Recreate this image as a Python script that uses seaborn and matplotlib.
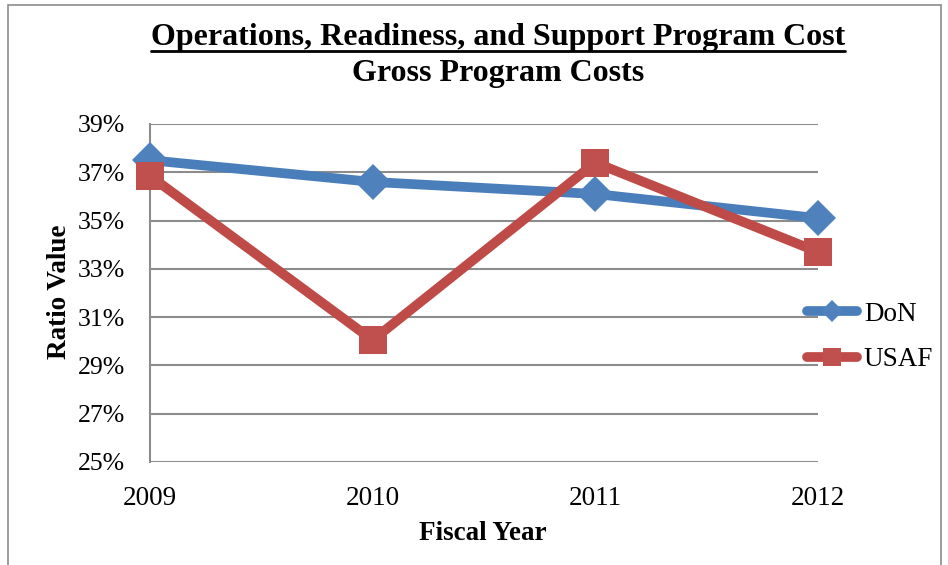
import matplotlib
matplotlib.use("Agg")
import matplotlib.pyplot as plt
import seaborn as sns
import pandas as pd
from matplotlib.lines import Line2D
from matplotlib.patches import Rectangle

years = [2009, 2010, 2011, 2012]
don = [37.5, 36.6, 36.1, 35.1]
usaf = [36.85, 30.05, 37.4, 33.7]
series_names = ["DoN", "USAF"]
y_ticks = [25, 27, 29, 31, 33, 35, 37, 39]

df = pd.DataFrame({
    "Fiscal Year": years * 2,
    "Ratio Value": don + usaf,
    "Series": ["DoN"] * 4 + ["USAF"] * 4,
})

sns.set_theme(style="white")
plt.rcParams["font.family"] = ["Liberation Serif", "DejaVu Serif"]
plt.rcParams["text.color"] = "black"
plt.rcParams["axes.labelcolor"] = "black"

fig = plt.figure(figsize=(9.48, 5.65), dpi=100)
W, H = 948, 565
ax = fig.add_axes([150 / W, 1 - 462 / H, (818 - 150) / W, (462 - 124) / H])

palette = {"DoN": "#4a7ebb", "USAF": "#be4b48"}
sns.lineplot(data=df, x="Fiscal Year", y="Ratio Value", hue="Series", style="Series",
             markers={"DoN": "D", "USAF": "s"}, dashes=False, palette=palette,
             linewidth=7, markersize=18, markeredgewidth=0, ax=ax, legend=False,
             clip_on=False, zorder=3)
for line, c in zip(ax.lines, ["#4f81bd", "#c0504d"]):
    line.set_markerfacecolor(c)
    line.set_markeredgecolor(c)
ax.lines[1].set_markersize(20)

ax.set_xlim(2009, 2012)
ax.set_ylim(25, 39)
ax.set_yticks(y_ticks)
ax.set_yticklabels([f"{v}%" for v in y_ticks])
ax.set_xticks(years)
ax.set_xticklabels([str(y) for y in years])
ax.tick_params(axis="y", labelsize=18.5, colors="black", length=0, pad=18)
ax.tick_params(axis="x", labelsize=19.5, colors="black", length=0, pad=17)
ax.grid(axis="y", color="#8c8c8c", linewidth=1.5)
ax.set_axisbelow(True)
for s in ["top", "right", "bottom"]:
    ax.spines[s].set_visible(False)
ax.spines["left"].set_color("#8c8c8c")
ax.spines["left"].set_linewidth(1.5)

ax.set_xlabel("Fiscal Year", fontsize=19.5, fontweight="bold", color="black")
ax.set_ylabel("Ratio Value", fontsize=19.5, fontweight="bold", color="black")
ax.xaxis.label.set_va("center")
ax.yaxis.label.set_va("center")
ax.xaxis.set_label_coords((483 - 150) / 668, (462 - 534) / 338)
ax.yaxis.set_label_coords((59 - 150) / 668, (462 - 292) / 338)

handles = [
    Line2D([], [], color="#4a7ebb", linewidth=7, marker="D", markersize=11,
           markerfacecolor="#4f81bd", markeredgewidth=0, solid_capstyle="round"),
    Line2D([], [], color="#be4b48", linewidth=7, marker="s", markersize=13,
           markerfacecolor="#c0504d", markeredgewidth=0, solid_capstyle="round"),
]
leg = fig.legend(handles, series_names, loc="center left",
                 bbox_to_anchor=(807 / W, 1 - 337 / H), frameon=False,
                 fontsize=19.5, handlelength=1.85, handletextpad=0.25,
                 labelspacing=0.75, borderaxespad=0, borderpad=0)
for t in leg.get_texts():
    t.set_color("black")

t1 = fig.text(498 / W, 1 - 37 / H, "Operations, Readiness, and Support Program Cost",
              ha="center", va="center", fontsize=23, fontweight="bold", color="black")
fig.text(498 / W, 1 - 74 / H, "Gross Program Costs", ha="center", va="center",
         fontsize=23, fontweight="bold", color="black")

fig.canvas.draw()
bb = t1.get_window_extent(renderer=fig.canvas.get_renderer())
uy = (bb.y0 + 1) / H
fig.add_artist(Line2D([bb.x0 / W, bb.x1 / W], [uy, uy], color="black", linewidth=2))

fig.add_artist(Rectangle((8 / W, -0.05), (941 - 8) / W, 1 - 5 / H + 0.05,
                         fill=False, edgecolor="#8c8c8c", linewidth=1.2,
                         transform=fig.transFigure))

fig.savefig("out.png", dpi=100)
